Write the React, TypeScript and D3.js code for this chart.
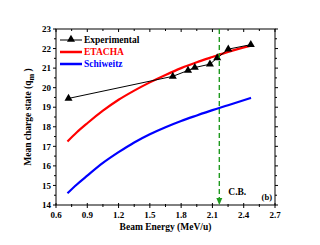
import React from "react";
import * as d3 from "d3";

type Pt = [number, number];

const expData: Pt[] = [
  [0.72, 19.45],
  [1.72, 20.58],
  [1.866, 20.88],
  [1.931, 21.03],
  [2.076, 21.2],
  [2.146, 21.52],
  [2.252, 21.97],
  [2.468, 22.2],
];

const etachaData: Pt[] = [
  [0.71, 17.25],
  [0.8, 17.72],
  [0.9, 18.18],
  [1.05, 18.82],
  [1.2, 19.38],
  [1.35, 19.85],
  [1.5, 20.27],
  [1.65, 20.65],
  [1.8, 21.0],
  [1.95, 21.3],
  [2.1, 21.57],
  [2.25, 21.83],
  [2.47, 22.15],
];

const schweitzData: Pt[] = [
  [0.71, 14.6],
  [0.8, 15.05],
  [0.9, 15.5],
  [1.05, 16.15],
  [1.2, 16.7],
  [1.35, 17.2],
  [1.5, 17.62],
  [1.65, 17.98],
  [1.8, 18.3],
  [1.95, 18.58],
  [2.1, 18.85],
  [2.25, 19.1],
  [2.47, 19.48],
];

const xTicks = [0.6, 0.9, 1.2, 1.5, 1.8, 2.1, 2.4, 2.7];
const yTicks = [14, 15, 16, 17, 18, 19, 20, 21, 22, 23];
const cbEnergy = 2.166;

const W = 320;
const H = 245;
const margin = { top: 29, right: 45, bottom: 40, left: 56 };
const font = "'Liberation Serif', 'Times New Roman', serif";

const App: React.FC = () => {
  const x = d3.scaleLinear().domain([0.6, 2.7]).range([margin.left, W - margin.right]);
  const y = d3.scaleLinear().domain([14, 23]).range([H - margin.bottom, margin.top]);
  const line = d3
    .line<Pt>()
    .x((d) => x(d[0]))
    .y((d) => y(d[1]));
  const smooth = d3
    .line<Pt>()
    .x((d) => x(d[0]))
    .y((d) => y(d[1]))
    .curve(d3.curveMonotoneX);

  const x0 = x(0.6);
  const x1 = x(2.7);
  const y0 = y(14);
  const y1 = y(23);

  const xMinor = d3.range(0.75, 2.7, 0.3);
  const yMinor = d3.range(14.5, 23, 1);

  const tri = d3.symbol().type(d3.symbolTriangle).size(28)();

  const legend = [
    { label: "Experimental", color: "#000", width: 1, marker: true },
    { label: "ETACHA", color: "#ff0000", width: 2.5, marker: false },
    { label: "Schiweitz", color: "#0000ff", width: 2.5, marker: false },
  ];

  return (
    <svg width={W} height={H} style={{ position: "absolute", left: 0, top: 0 }}>
      <rect width={W} height={H} fill="#fff" />
      {/* frame */}
      <rect x={x0} y={y1} width={x1 - x0} height={y0 - y1} fill="none" stroke="#000" strokeWidth={1} />

      {/* bottom / top ticks */}
      {xTicks.map((t) => (
        <g key={"xb" + t}>
          <line x1={x(t)} x2={x(t)} y1={y0 - 2} y2={y0 + 3} stroke="#000" />
          <line x1={x(t)} x2={x(t)} y1={y1} y2={y1 + 3} stroke="#000" />
          <text x={x(t)} y={y0 + 13} textAnchor="middle" fontFamily={font} fontWeight="bold" fontSize={9}>
            {t.toFixed(1)}
          </text>
        </g>
      ))}
      {xMinor.map((t) => (
        <g key={"xm" + t}>
          <line x1={x(t)} x2={x(t)} y1={y0 - 1} y2={y0 + 2} stroke="#000" />
          <line x1={x(t)} x2={x(t)} y1={y1} y2={y1 + 2} stroke="#000" />
        </g>
      ))}

      {/* left / right ticks */}
      {yTicks.map((t) => (
        <g key={"y" + t}>
          <line x1={x0 - 3} x2={x0} y1={y(t)} y2={y(t)} stroke="#000" />
          <line x1={x1} x2={x1 + 3} y1={y(t)} y2={y(t)} stroke="#000" />
          <text x={x0 - 5} y={y(t) + 3.2} textAnchor="end" fontFamily={font} fontWeight="bold" fontSize={9}>
            {t}
          </text>
        </g>
      ))}
      {yMinor.map((t) => (
        <g key={"ym" + t}>
          <line x1={x0 - 2} x2={x0} y1={y(t)} y2={y(t)} stroke="#000" />
          <line x1={x1} x2={x1 + 2} y1={y(t)} y2={y(t)} stroke="#000" />
        </g>
      ))}

      {/* curves */}
      <path d={smooth(schweitzData) ?? ""} fill="none" stroke="#0000ff" strokeWidth={2.2} />
      <path d={smooth(etachaData) ?? ""} fill="none" stroke="#ff0000" strokeWidth={2.2} />
      <path d={line(expData) ?? ""} fill="none" stroke="#000" strokeWidth={1} />
      {expData.map((d, i) => (
        <path key={"m" + i} d={tri ?? ""} transform={`translate(${x(d[0])},${y(d[1])})`} fill="#000" />
      ))}

      {/* coulomb barrier */}
      <line
        x1={x(cbEnergy)}
        x2={x(cbEnergy)}
        y1={y1}
        y2={y0 - 5}
        stroke="#1f9a1f"
        strokeWidth={1.4}
        strokeDasharray="5,3"
      />
      <path
        d={`M${x(cbEnergy) - 3},${y0 - 7} L${x(cbEnergy) + 3},${y0 - 7} L${x(cbEnergy)},${y0} Z`}
        fill="#1f9a1f"
      />
      <text x={x(cbEnergy) + 9} y={y0 - 10} fontFamily={font} fontWeight="bold" fontSize={9.5}>
        C.B.
      </text>
      <text x={x1 - 3} y={y0 - 5} textAnchor="end" fontFamily={font} fontWeight="bold" fontSize={8.5}>
        (b)
      </text>

      {/* legend */}
      {legend.map((l, i) => {
        const ly = 40 + i * 12;
        return (
          <g key={l.label}>
            <line x1={60} x2={82} y1={ly} y2={ly} stroke={l.color} strokeWidth={l.width} />
            {l.marker && <path d={tri ?? ""} transform={`translate(71,${ly - 0.5})`} fill="#000" />}
            <text x={84} y={ly + 3.3} fontFamily={font} fontWeight="bold" fontSize={9.5} fill={l.color}>
              {l.label}
            </text>
          </g>
        );
      })}

      {/* axis titles */}
      <text
        x={(x0 + x1) / 2}
        y={230}
        textAnchor="middle"
        fontFamily={font}
        fontWeight="bold"
        fontSize={9.5}
      >
        Beam Energy (MeV/u)
      </text>
      <text
        transform={`translate(31,${(y0 + y1) / 2}) rotate(-90)`}
        textAnchor="middle"
        fontFamily={font}
        fontWeight="bold"
        fontSize={9.5}
      >
        Mean charge state (q
        <tspan fontSize={8} dy={2.5}>m</tspan>
        <tspan dy={-2.5}> )</tspan>
      </text>
    </svg>
  );
};

export default App;
